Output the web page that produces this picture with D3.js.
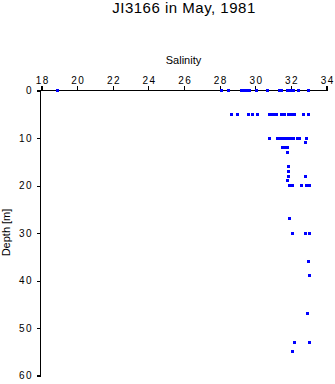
<!DOCTYPE html>
<html><head><meta charset="utf-8">
<script src="https://cdn.jsdelivr.net/npm/d3@7"></script>
<style>body{margin:0;background:#fff;} text{font-family:"Liberation Sans",Arial,sans-serif;}</style>
</head><body>
<svg id="c" width="335" height="384"></svg>
<script>
const title = "JI3166 in May, 1981";
const xLabel = "Salinity";
const yLabel = "Depth [m]";
const xTicks = [18,20,22,24,26,28,30,32,34];
const yTicks = [0,10,20,30,40,50,60];
const depth = [
 0,0,0,0,0,0,0,0,0,0,0,0,0,0,0,0,0,
 5,5,5,5,5,5,5,5,5,5,5,5,5,5,5,5,5,
 10,10,10,10,10,10,10,10,10,10,10,10,10,10,
 11,12,12,12,13,16,17,18,18,19,
 20,20,20,20,20,27,30,30,30,36,39,47,53,53,55
];
const salinity = [
 18.9,28.1,28.5,29.2,29.35,29.5,29.7,30.05,30.7,31.35,31.5,31.8,31.95,32.05,32.15,32.4,32.97,
 28.67,29.0,29.6,29.83,30.15,30.8,30.95,31.1,31.2,31.45,31.65,31.85,31.95,32.05,32.2,32.73,32.97,
 30.8,31.25,31.35,31.45,31.55,31.65,31.75,31.85,31.95,32.05,32.15,32.35,32.5,32.9,
 32.8,31.55,31.65,31.8,31.83,31.87,31.88,31.85,32.8,31.8,
 31.9,32.1,32.62,32.9,33.05,31.9,32.1,32.8,33.05,32.97,33.05,32.95,32.22,33.05,32.1
];

const svg = d3.select("#c");
const x = d3.scaleLinear().domain([18,34]).range([41,326]);
const y = d3.scaleLinear().domain([0,60]).range([90,375]);

svg.append("text").attr("x",184).attr("y",13).attr("text-anchor","middle")
  .style("font-size","15px").style("letter-spacing","0.5px").text(title);

const ls = 1.5;
const gx = svg.append("g").attr("transform","translate(0.5,90.5)")
  .call(d3.axisTop(x).tickValues(xTicks).tickFormat(d3.format("d")).tickSize(5).tickPadding(1.5));
const gy = svg.append("g").attr("transform","translate(40.5,0.5)")
  .call(d3.axisLeft(y).tickValues(yTicks).tickFormat(d3.format("d")).tickSize(4).tickPadding(5));
[gx,gy].forEach(g=>{
  g.selectAll("text").style("font-size","10px").style("letter-spacing",ls+"px")
    .attr("fill","#000").style("font-family","Liberation Sans, Arial, sans-serif");
  g.selectAll("path,line").attr("stroke","#000").attr("shape-rendering","crispEdges");
});
gx.selectAll("text").attr("dx",ls/2);
gy.selectAll("text").attr("dx",ls);
gx.select(".domain").attr("d",`M${x(18)},-5V0H${x(34)}V-5`);
gy.select(".domain").attr("d",`M-4,${y(0)}H0V${y(60)}H-4`);

svg.append("text").attr("x",(x(18)+x(34))/2).attr("y",64).attr("text-anchor","middle")
  .style("font-size","11px").text(xLabel);
svg.append("text").attr("transform",`translate(10,${(y(0)+y(60))/2}) rotate(-90)`)
  .attr("text-anchor","middle").style("font-size","11px").text(yLabel);

svg.append("g").selectAll("rect").data(depth.map((d,i)=>({d, s:salinity[i]}))).join("rect")
  .attr("x",p=>Math.round(x(p.s))-1).attr("y",p=>Math.round(y(p.d))-1)
  .attr("width",3).attr("height",3).attr("fill","#0000ff").attr("shape-rendering","crispEdges");
</script>
</body></html>
